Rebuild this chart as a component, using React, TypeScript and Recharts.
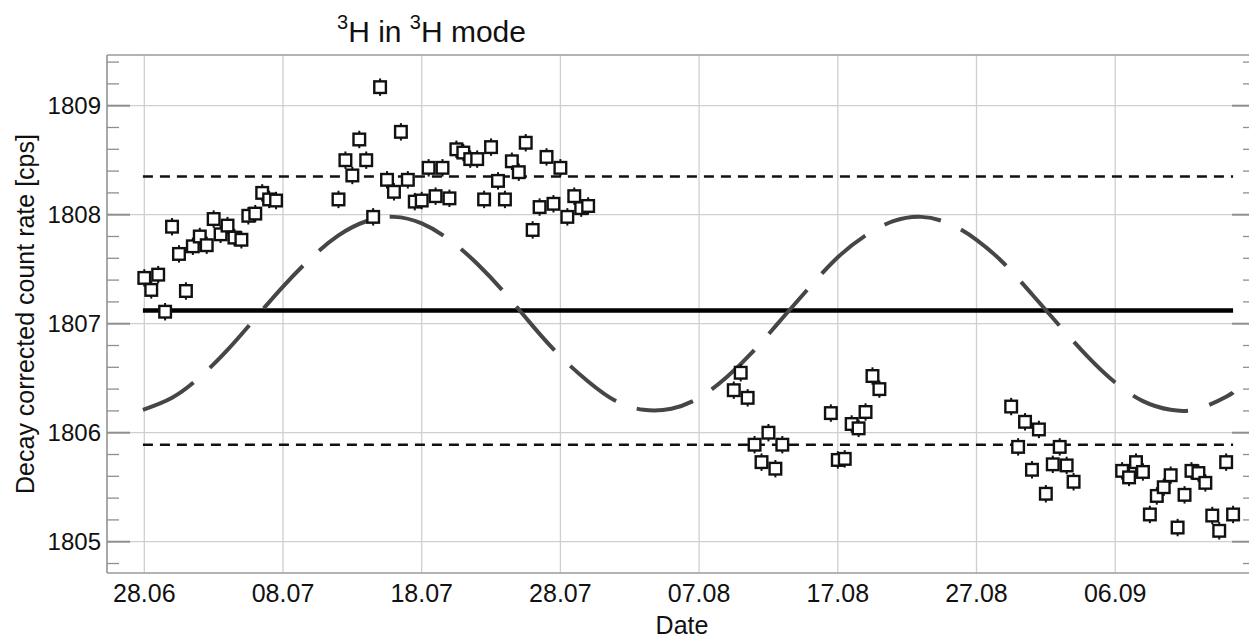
import React from "react";
import {
  ComposedChart,
  XAxis,
  YAxis,
  CartesianGrid,
  Line,
  Scatter,
  ErrorBar,
} from "recharts";

// x = days since 28.06
const dateTicks = [0, 10, 20, 30, 40, 50, 60, 70];
const dateLabels = ["28.06", "08.07", "18.07", "28.07", "07.08", "17.08", "27.08", "06.09"];

const rateTicks = [
  1804.8, 1805, 1805.2, 1805.4, 1805.6, 1805.8, 1806, 1806.2, 1806.4, 1806.6, 1806.8,
  1807, 1807.2, 1807.4, 1807.6, 1807.8, 1808, 1808.2, 1808.4, 1808.6, 1808.8, 1809,
  1809.2, 1809.4,
];
const rateGrid = [1805, 1806, 1807, 1808, 1809];

// measured points
const measDays = [
  0, 0.5, 1, 1.5, 2, 2.5, 3, 3.5, 4, 4.5, 5, 5.5, 6, 6.5, 7, 7.5, 8, 8.5, 9, 9.5,
  14, 14.5, 15, 15.5, 16, 16.5, 17, 17.5, 18, 18.5, 19, 19.5, 20, 20.5, 21, 21.5, 22,
  22.5, 23, 23.5, 24, 24.5, 25, 25.5, 26, 26.5, 27, 27.5, 28, 28.5, 29, 29.5, 30, 30.5,
  31, 31.5, 32,
  42.5, 43, 43.5, 44, 44.5, 45, 45.5, 46, 49.5, 50, 50.5, 51, 51.5, 52, 52.5, 53,
  62.5, 63, 63.5, 64, 64.5, 65, 65.5, 66, 66.5, 67, 70.5, 71, 71.5, 72, 72.5, 73, 73.5,
  74, 74.5, 75, 75.5, 76, 76.5, 77, 77.5, 78, 78.5,
];
const measRates = [
  1807.42, 1807.31, 1807.45, 1807.11, 1807.89, 1807.64, 1807.3, 1807.71, 1807.8, 1807.72,
  1807.96, 1807.82, 1807.9, 1807.79, 1807.77, 1807.99, 1808.01, 1808.2, 1808.14, 1808.13,
  1808.14, 1808.5, 1808.36, 1808.69, 1808.5, 1807.98, 1809.17, 1808.32, 1808.21, 1808.76,
  1808.32, 1808.12, 1808.13, 1808.43, 1808.17, 1808.43, 1808.15, 1808.6, 1808.57, 1808.51,
  1808.51, 1808.14, 1808.62, 1808.31, 1808.14, 1808.49, 1808.39, 1808.66, 1807.86, 1808.07,
  1808.53, 1808.1, 1808.43, 1807.98, 1808.17, 1808.06, 1808.08,
  1806.39, 1806.55, 1806.32, 1805.89, 1805.73, 1806.0, 1805.67, 1805.89, 1806.18, 1805.75,
  1805.76, 1806.08, 1806.04, 1806.19, 1806.52, 1806.4,
  1806.24, 1805.87, 1806.1, 1805.66, 1806.03, 1805.44, 1805.71, 1805.87, 1805.7, 1805.55,
  1805.65, 1805.59, 1805.73, 1805.64, 1805.25, 1805.42, 1805.5, 1805.61, 1805.13, 1805.43,
  1805.65, 1805.63, 1805.54, 1805.24, 1805.1, 1805.73, 1805.25,
];
const measErr = 0.08;

// modulation curve
const fitDays = [
  -0.1, 2, 4, 6, 8, 10, 12, 14, 16, 18, 20, 22, 24, 26, 28, 30, 32, 34, 36, 38, 40, 42,
  44, 46, 48, 50, 52, 54, 56, 58, 60, 62, 64, 66, 68, 70, 72, 74, 76, 78, 78.5,
];
const fitRates = [
  1806.21, 1806.32, 1806.51, 1806.76, 1807.05, 1807.34, 1807.6, 1807.81, 1807.94, 1807.98,
  1807.92, 1807.77, 1807.55, 1807.28, 1806.98, 1806.7, 1806.47, 1806.29, 1806.21, 1806.22,
  1806.32, 1806.51, 1806.76, 1807.05, 1807.34, 1807.61, 1807.81, 1807.94, 1807.98, 1807.92,
  1807.77, 1807.55, 1807.27, 1806.98, 1806.7, 1806.46, 1806.29, 1806.21, 1806.22, 1806.33,
  1806.37,
];

const meanRate = 1807.12;
const upperRate = 1808.35;
const lowerRate = 1805.89;
const spanDays = [-0.1, 78.5];

const measData = measDays.map((d, i) => ({ day: d, rate: measRates[i], err: measErr }));
const fitData = fitDays.map((d, i) => ({ day: d, v: fitRates[i] }));
const flat = (v: number) => spanDays.map((d) => ({ day: d, v }));

const FONT = "'Liberation Sans', Arial, Helvetica, sans-serif";
const X_DOMAIN = [-2.69, 80.08];
const Y_DOMAIN = [1804.713, 1809.465];
const FRAME = { stroke: "#9a9a9a", strokeWidth: 1.6 };

const isMajor = (v: number) => Math.abs(v - Math.round(v)) < 0.01;

const LeftTick = (props: any) => {
  const { x, y, payload } = props;
  const major = isMajor(payload.value);
  return (
    <g>
      <line x1={x} x2={x + (major ? 23 : 12)} y1={y} y2={y} stroke="#8f8f8f" strokeWidth={major ? 2 : 1.3} />
      {major && (
        <text x={x - 6} y={y + 8.7} textAnchor="end" fontSize={24} fill="#111" fontFamily={FONT}>
          {Math.round(payload.value)}
        </text>
      )}
    </g>
  );
};

const RightTick = (props: any) => {
  const { x, y, payload } = props;
  const major = isMajor(payload.value);
  return (
    <line x1={x} x2={x - (major ? 23 : 12)} y1={y} y2={y} stroke="#8f8f8f" strokeWidth={major ? 2 : 1.3} />
  );
};

const DateTick = (props: any) => {
  const { x, y, payload } = props;
  const idx = dateTicks.indexOf(payload.value);
  return (
    <text x={x} y={y + 29} textAnchor="middle" fontSize={25} fill="#111" fontFamily={FONT}>
      {dateLabels[idx]}
    </text>
  );
};

const OpenSquare = (props: any) => {
  const { cx, cy } = props;
  if (cx == null || cy == null) return null;
  return <rect x={cx - 5.8} y={cy - 5.8} width={11.6} height={11.6} fill="#fff" stroke="#111" strokeWidth={2.4} />;
};

export default function App() {
  return (
    <div style={{ width: 1249, height: 638, overflow: "hidden", position: "relative", background: "#fff" }}>
      <style>{"body{margin:0}"}</style>
      <ComposedChart
        width={1265}
        height={638}
        margin={{ top: 50, right: 0, bottom: 25, left: 47 }}
      >
        <CartesianGrid
          yAxisId="left"
          stroke="#cfcfcf"
          strokeWidth={1.3}
          horizontalValues={rateGrid}
        />
        <XAxis
          dataKey="day"
          type="number"
          domain={X_DOMAIN}
          allowDataOverflow
          ticks={dateTicks}
          interval={0}
          height={40}
          tickSize={0}
          tickMargin={0}
          tickLine={false}
          tick={<DateTick />}
          axisLine={FRAME}
        />
        <XAxis
          xAxisId="top"
          orientation="top"
          type="number"
          domain={X_DOMAIN}
          allowDataOverflow
          height={5}
          tick={false}
          tickLine={false}
          axisLine={FRAME}
        />
        <YAxis
          yAxisId="left"
          type="number"
          domain={Y_DOMAIN}
          allowDataOverflow
          ticks={rateTicks}
          interval={0}
          width={60}
          tickSize={0}
          tickMargin={0}
          tickLine={false}
          tick={<LeftTick />}
          axisLine={FRAME}
        />
        <YAxis
          yAxisId="right"
          orientation="right"
          type="number"
          domain={Y_DOMAIN}
          allowDataOverflow
          ticks={rateTicks}
          interval={0}
          width={10}
          tickSize={0}
          tickMargin={0}
          tickLine={false}
          tick={<RightTick />}
          axisLine={FRAME}
        />

        <Line
          yAxisId="left"
          data={flat(upperRate)}
          dataKey="v"
          stroke="#111"
          strokeWidth={2.5}
          strokeDasharray="10 7"
          dot={false}
          activeDot={false}
          isAnimationActive={false}
        />
        <Line
          yAxisId="left"
          data={flat(lowerRate)}
          dataKey="v"
          stroke="#111"
          strokeWidth={2.5}
          strokeDasharray="10 7"
          dot={false}
          activeDot={false}
          isAnimationActive={false}
        />
        <Line
          yAxisId="left"
          data={flat(meanRate)}
          dataKey="v"
          stroke="#000"
          strokeWidth={4.5}
          dot={false}
          activeDot={false}
          isAnimationActive={false}
        />
        <Line
          yAxisId="left"
          data={fitData}
          dataKey="v"
          type="natural"
          stroke="#464646"
          strokeWidth={4}
          strokeDasharray="58 22"
          dot={false}
          activeDot={false}
          isAnimationActive={false}
        />
        <Scatter
          yAxisId="left"
          data={measData}
          dataKey="rate"
          shape={<OpenSquare />}
          isAnimationActive={false}
        >
          <ErrorBar dataKey="err" direction="y" width={0} stroke="#111" strokeWidth={2} isAnimationActive={false} />
        </Scatter>
      </ComposedChart>

      <svg
        width={1249}
        height={638}
        style={{ position: "absolute", left: 0, top: 0, pointerEvents: "none" }}
        fontFamily={FONT}
      >
        <text x={337} y={42} fontSize={30} fill="#111">
          <tspan fontSize={20} dy={-13}>3</tspan>
          <tspan dy={13}>H in </tspan>
          <tspan fontSize={20} dy={-13}>3</tspan>
          <tspan dy={13}>H mode</tspan>
        </text>
        <text
          transform="translate(34,314) rotate(-90)"
          textAnchor="middle"
          fontSize={25}
          fill="#111"
        >
          Decay corrected count rate [cps]
        </text>
        <text x={682} y={634} textAnchor="middle" fontSize={25} fill="#111">
          Date
        </text>
      </svg>
    </div>
  );
}
